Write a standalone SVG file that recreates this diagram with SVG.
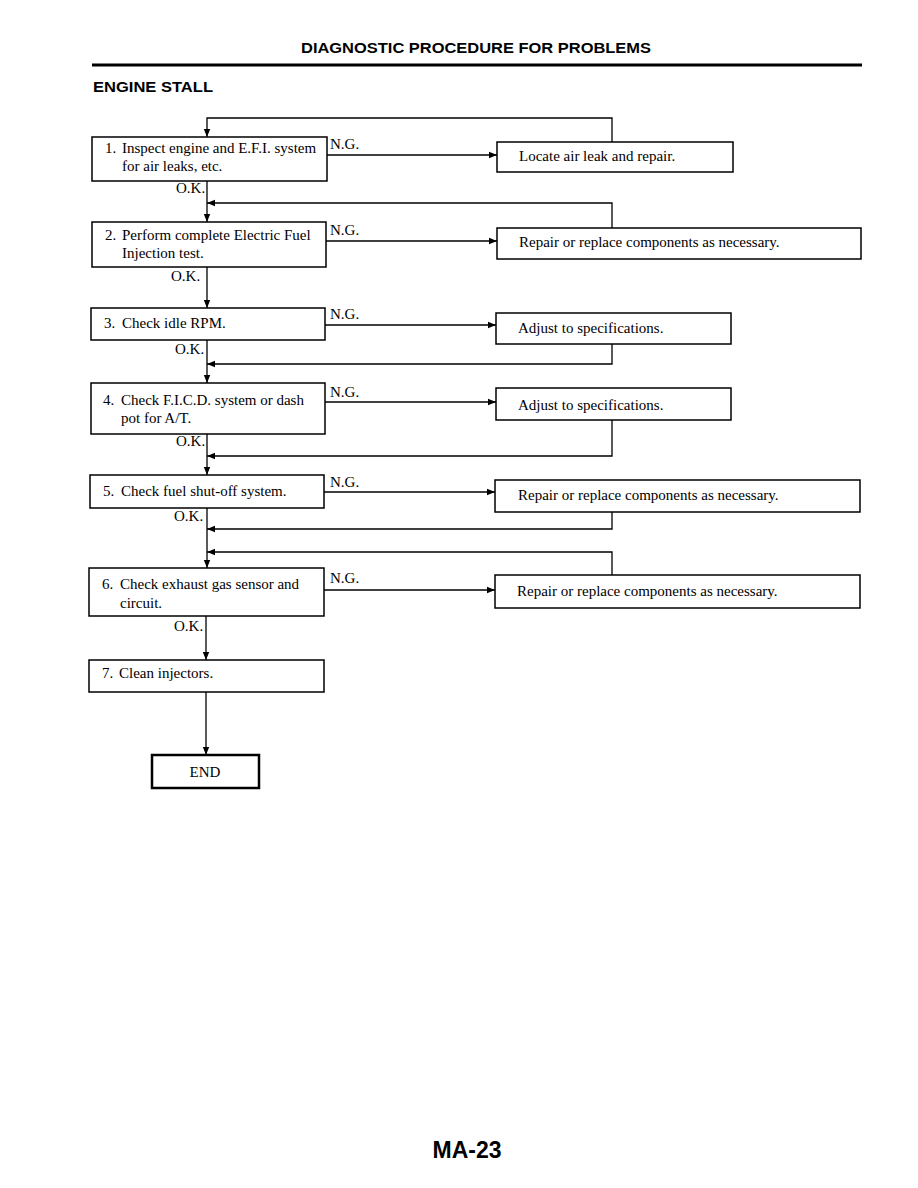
<svg xmlns="http://www.w3.org/2000/svg" width="918" height="1188" viewBox="0 0 918 1188">
<defs>
<marker id="ah" viewBox="0 0 10 10" refX="10" refY="5" markerWidth="8" markerHeight="8" markerUnits="userSpaceOnUse" orient="auto">
<path d="M0,1 L10,5 L0,9 Z" fill="#000"/>
</marker>
</defs>
<style>
.box{fill:#fff;stroke:#000;stroke-width:1.5}
.t{font-family:"Liberation Serif","Times New Roman",serif;font-size:15px;fill:#000}
.lbl{font-family:"Liberation Serif","Times New Roman",serif;font-size:15px;fill:#000}
.c{fill:none;stroke:#000;stroke-width:1.3}
.a{fill:none;stroke:#000;stroke-width:1.3;marker-end:url(#ah)}
</style>
<rect width="918" height="1188" fill="#fff"/>
<text x="476" y="53" text-anchor="middle" font-family="'Liberation Sans',Arial,sans-serif" font-weight="bold" font-size="14" textLength="350" lengthAdjust="spacingAndGlyphs">DIAGNOSTIC PROCEDURE FOR PROBLEMS</text>
<line x1="92" y1="65" x2="862" y2="65" stroke="#000" stroke-width="3"/>
<text x="93" y="92" font-family="'Liberation Sans',Arial,sans-serif" font-weight="900" font-size="15" textLength="120" lengthAdjust="spacingAndGlyphs">ENGINE STALL</text>

<g id="connectors">
<polyline class="a" points="612,142 612,118 207,118 207,137"/>
<line class="a" x1="327" y1="155" x2="497" y2="155"/>
<line class="a" x1="207" y1="181" x2="207" y2="222"/>
<polyline class="a" points="612,228 612,203 207,203"/>
<line class="a" x1="326" y1="241" x2="497" y2="241"/>
<line class="a" x1="207" y1="267" x2="207" y2="308"/>
<line class="a" x1="325" y1="325" x2="496" y2="325"/>
<polyline class="a" points="612,344 612,364 207,364"/>
<line class="a" x1="207" y1="340" x2="207" y2="383"/>
<line class="a" x1="325" y1="402" x2="496" y2="402"/>
<polyline class="a" points="612,420 612,456 207,456"/>
<line class="a" x1="207" y1="434" x2="207" y2="475"/>
<line class="a" x1="324" y1="492" x2="495" y2="492"/>
<polyline class="a" points="612,512 612,529 207,529"/>
<polyline class="a" points="612,575 612,552 207,552"/>
<line class="a" x1="207" y1="508" x2="207" y2="568"/>
<line class="a" x1="324" y1="590" x2="495" y2="590"/>
<line class="a" x1="206" y1="616" x2="206" y2="660"/>
<line class="a" x1="206" y1="692" x2="206" y2="755"/>
<text class="lbl" x="330" y="149">N.G.</text>
<text class="lbl" x="176" y="193">O.K.</text>
<text class="lbl" x="330" y="235">N.G.</text>
<text class="lbl" x="171" y="281">O.K.</text>
<text class="lbl" x="330" y="319">N.G.</text>
<text class="lbl" x="175" y="354">O.K.</text>
<text class="lbl" x="330" y="397">N.G.</text>
<text class="lbl" x="176" y="446">O.K.</text>
<text class="lbl" x="330" y="487">N.G.</text>
<text class="lbl" x="174" y="521">O.K.</text>
<text class="lbl" x="330" y="583">N.G.</text>
<text class="lbl" x="174" y="631">O.K.</text>
</g>

<g id="n1"><rect class="box" x="92" y="137" width="235" height="44"/>
<text class="t" y="153"><tspan x="105">1.</tspan><tspan x="122">Inspect engine and E.F.I. system</tspan></text>
<text class="t" x="122" y="171">for air leaks, etc.</text></g>
<g id="r1"><rect class="box" x="497" y="142" width="236" height="30"/>
<text class="t" x="519" y="161">Locate air leak and repair.</text></g>

<g id="n2"><rect class="box" x="92" y="222" width="234" height="45"/>
<text class="t" y="240"><tspan x="105">2.</tspan><tspan x="122">Perform complete Electric Fuel</tspan></text>
<text class="t" x="122" y="258">Injection test.</text></g>
<g id="r2"><rect class="box" x="497" y="228" width="364" height="31"/>
<text class="t" x="519" y="247">Repair or replace components as necessary.</text></g>

<g id="n3"><rect class="box" x="91" y="308" width="234" height="32"/>
<text class="t" y="328"><tspan x="104">3.</tspan><tspan x="122">Check idle RPM.</tspan></text></g>
<g id="r3"><rect class="box" x="496" y="313" width="235" height="31"/>
<text class="t" x="518" y="333">Adjust to specifications.</text></g>

<g id="n4"><rect class="box" x="91" y="383" width="234" height="51"/>
<text class="t" y="405"><tspan x="103">4.</tspan><tspan x="121">Check F.I.C.D. system or dash</tspan></text>
<text class="t" x="121" y="423">pot for A/T.</text></g>
<g id="r4"><rect class="box" x="496" y="388" width="235" height="32"/>
<text class="t" x="518" y="410">Adjust to specifications.</text></g>

<g id="n5"><rect class="box" x="90" y="475" width="234" height="33"/>
<text class="t" y="496"><tspan x="103">5.</tspan><tspan x="121">Check fuel shut-off system.</tspan></text></g>
<g id="r5"><rect class="box" x="495" y="480" width="365" height="32"/>
<text class="t" x="518" y="500">Repair or replace components as necessary.</text></g>

<g id="n6"><rect class="box" x="89" y="568" width="235" height="48"/>
<text class="t" y="589"><tspan x="102">6.</tspan><tspan x="120">Check exhaust gas sensor and</tspan></text>
<text class="t" x="120" y="608">circuit.</text></g>
<g id="r6"><rect class="box" x="495" y="575" width="365" height="33"/>
<text class="t" x="517" y="596">Repair or replace components as necessary.</text></g>

<g id="n7"><rect class="box" x="89" y="660" width="235" height="32"/>
<text class="t" y="678"><tspan x="102">7.</tspan><tspan x="119">Clean injectors.</tspan></text></g>

<g id="end"><rect x="152" y="755" width="107" height="33" fill="#fff" stroke="#000" stroke-width="2.5"/>
<text class="t" x="205" y="777" text-anchor="middle">END</text></g>

<text x="467" y="1158" text-anchor="middle" font-family="'Liberation Sans',Arial,sans-serif" font-weight="bold" font-size="23">MA-23</text>
</svg>
